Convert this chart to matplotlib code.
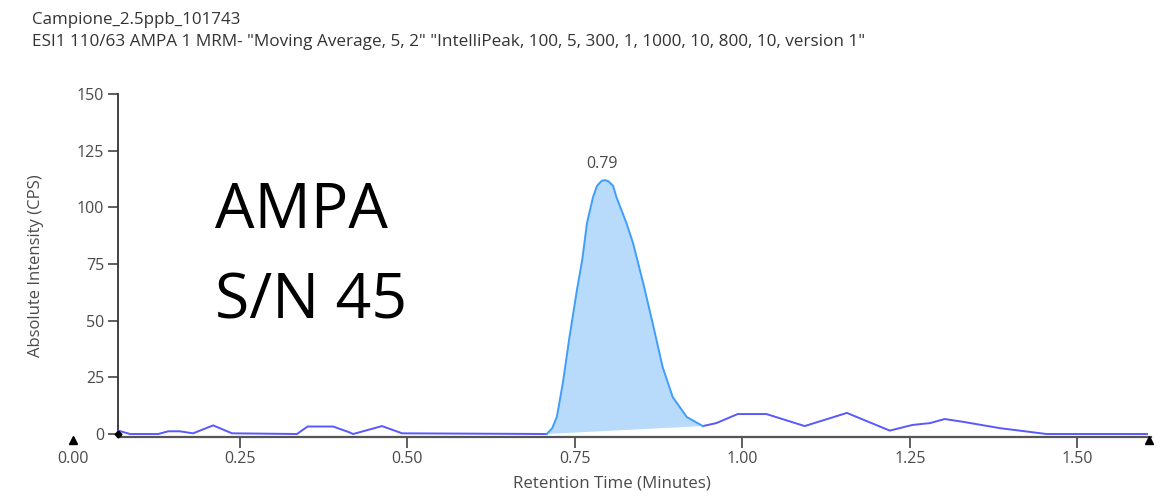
import numpy as np
import matplotlib
matplotlib.use('Agg')
import matplotlib.pyplot as plt

plt.rcParams['font.family'] = ['Open Sans', 'DejaVu Sans']

# 基线（峰前）
base_t = [0.068, 0.086, 0.128, 0.143, 0.160, 0.180, 0.210, 0.238, 0.335, 0.351,
          0.389, 0.411, 0.419, 0.462, 0.492, 0.708]
base_v = [1.5, 0.0, 0.0, 1.2, 1.2, 0.3, 3.8, 0.3, 0.0, 3.3,
          3.3, 1.0, 0.0, 3.5, 0.3, 0.0]

# 色谱峰 AMPA
peak_t = [0.708, 0.716, 0.723, 0.732, 0.742, 0.753, 0.761, 0.768, 0.777, 0.783,
          0.790, 0.795, 0.800, 0.807, 0.812, 0.827, 0.837, 0.852, 0.866, 0.881,
          0.896, 0.917, 0.941]
peak_v = [0.0, 2.5, 7.5, 22.5, 43.0, 63.5, 77.0, 93.0, 104.5, 109.5,
          111.7, 112.0, 111.5, 109.5, 104.5, 93.0, 84.0, 66.5, 49.0, 29.5,
          16.3, 7.5, 3.5]

# 峰后
tail_t = [0.941, 0.961, 0.993, 1.036, 1.093, 1.156, 1.220, 1.254, 1.280, 1.302,
          1.329, 1.384, 1.454, 1.604]
tail_v = [3.5, 4.8, 8.8, 8.8, 3.5, 9.3, 1.5, 4.0, 4.8, 6.6,
          5.4, 2.6, 0.0, 0.0]

peak_rt = 0.79
xticks = [0.00, 0.25, 0.50, 0.75, 1.00, 1.25, 1.50]
yticks = [0, 25, 50, 75, 100, 125, 150]
x_start, x_end = 0.068, 1.61

W, H = 1158, 497
fig = plt.figure(figsize=(W / 100, H / 100), dpi=100)
ax = fig.add_axes([72.5 / W, 1 - 437.4 / H, 1078.5 / W, 343.4 / H])

trace_col = '#5858ff'
txt_col = '#4a4a4a'
ax.plot(base_t, base_v, color=trace_col, lw=1.4, zorder=3)
ax.plot(tail_t, tail_v, color=trace_col, lw=1.4, zorder=3)
ax.fill(peak_t, peak_v, color='#b9dbfb', lw=0, zorder=2)
ax.plot(peak_t, peak_v, color='#3f9dfd', lw=1.4, zorder=3)
ax.text(peak_rt, 115.5, '%.2f' % peak_rt, ha='center', va='bottom', fontsize=11.5, color=txt_col)

ax.set_xlim(0, x_end)
ax.set_ylim(-1.5, 150)

for s in ['top', 'right']:
    ax.spines[s].set_visible(False)
ax.spines['left'].set_position(('data', x_start))
ax.spines['left'].set_color('#333333')
ax.spines['left'].set_linewidth(1.3)
ax.spines['bottom'].set_bounds(x_start, x_end)
ax.spines['bottom'].set_color('#555555')
ax.spines['bottom'].set_linewidth(1.6)

ax.set_xticks(xticks)
ax.set_xticklabels(['%.2f' % x for x in xticks])
ax.set_yticks(yticks)
ax.tick_params(axis='both', labelsize=11.5, colors='#444444', labelcolor=txt_col)
ax.tick_params(axis='x', length=8, width=1.2, pad=2)
ax.tick_params(axis='y', length=7, width=1.2, pad=3)
ax.xaxis.get_major_ticks()[0].tick1line.set_visible(False)

# 端点标记
ax.plot([0, x_end - 0.003], [-2.5, -2.5], ls='none', marker='^', ms=6, color='black', clip_on=False, zorder=5)
ax.plot([x_start], [0], ls='none', marker='D', ms=3.5, color='black', clip_on=False, zorder=5)

ax.set_xlabel('Retention Time (Minutes)', fontsize=12.2, color=txt_col, labelpad=6)
ax.set_ylabel('Absolute Intensity (CPS)', fontsize=12, color=txt_col)
ax.yaxis.set_label_coords(-0.026, 0.5)

fig.text(32 / W, 1 - 20 / H, 'Campione_2.5ppb_101743', fontsize=12.2, color='#333333', va='center')
fig.text(32 / W, 1 - 42 / H,
         'ESI1 110/63 AMPA 1 MRM- "Moving Average, 5, 2" "IntelliPeak, 100, 5, 300, 1, 1000, 10, 800, 10, version 1"',
         fontsize=12.3, color='#333333', va='center')

ax.text(0.212, 91, 'AMPA', fontsize=45, color='black', va='baseline')
ax.text(0.212, 51, 'S/N 45', fontsize=45, color='black', va='baseline')

fig.savefig('out.png', dpi=100)
